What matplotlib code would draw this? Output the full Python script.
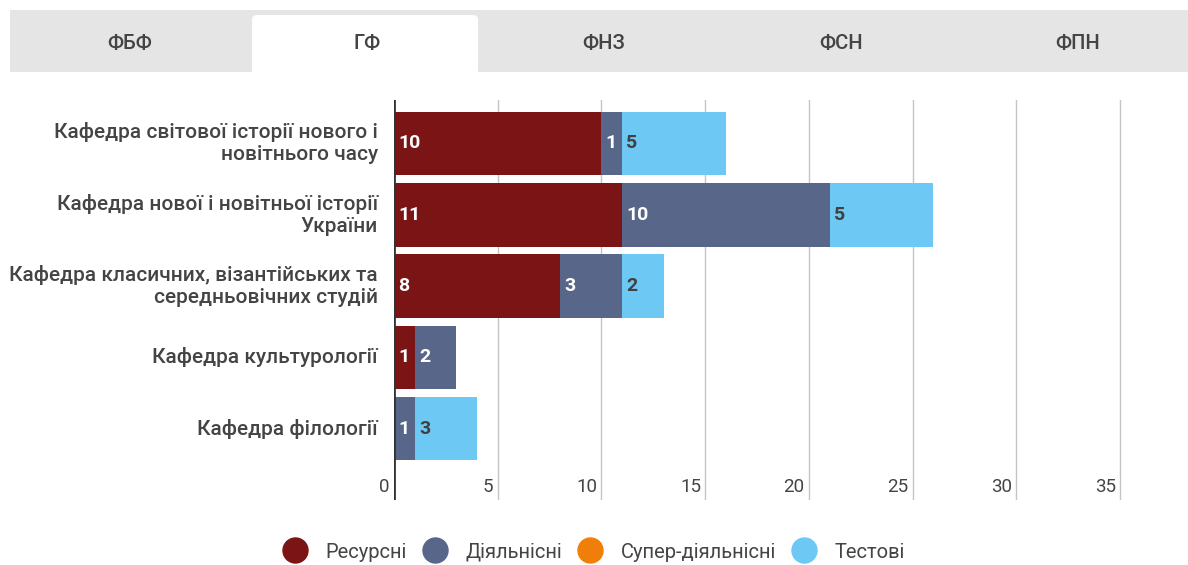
import matplotlib
matplotlib.use('Agg')
import numpy as np
import matplotlib.pyplot as plt
from matplotlib.patches import FancyBboxPatch, Rectangle
from matplotlib.lines import Line2D
from matplotlib.transforms import offset_copy

plt.rcParams['font.family'] = ['Roboto', 'DejaVu Sans']

tabs = ['ФБФ', 'ГФ', 'ФНЗ', 'ФСН', 'ФПН']
active_tab = 1

departments = [
    'Кафедра світової історії нового і\nновітнього часу',
    'Кафедра нової і новітньої історії\nУкраїни',
    'Кафедра класичних, візантійських та\nсередньовічних студій',
    'Кафедра культурології',
    'Кафедра філології',
]
series = ['Ресурсні', 'Діяльнісні', 'Супер-діяльнісні', 'Тестові']
resource = [10, 11, 8, 1, 0]
activity = [1, 10, 3, 2, 1]
super_activity = [0, 0, 0, 0, 0]
test = [5, 5, 2, 0, 3]
colors = ['#7b1515', '#58668a', '#f07f09', '#6dc8f3']
label_colors = ['white', 'white', 'white', '#404040']
xticks = [0, 5, 10, 15, 20, 25, 30, 35]

W, H = 1188, 565
fig = plt.figure(figsize=(W / 100, H / 100), dpi=100)

# tab strip drawn in pixel space
bg = fig.add_axes([0, 0, 1, 1], zorder=0)
bg.set_xlim(0, W)
bg.set_ylim(H, 0)
bg.axis('off')
bg.add_patch(Rectangle((10, 10), W - 10, 62, color='#e5e5e5', lw=0))
tab_w = 237
for i, t in enumerate(tabs):
    cx = 130 + i * tab_w
    if i == active_tab:
        bg.add_patch(FancyBboxPatch((252, 15), 226, 60, boxstyle='round,pad=0,rounding_size=5',
                                    fc='white', ec='none'))
    bg.text(cx, 43, t, ha='center', va='center', fontsize=14.5, color='#444444',
            fontweight='medium')

# bar chart
x0, x1, y0, y1 = 394, 1178, 100, 500
ax = fig.add_axes([x0 / W, 1 - y1 / H, (x1 - x0) / W, (y1 - y0) / H], zorder=1)
ax.patch.set_alpha(0)
px_per_unit = (1120 - 394) / 35
ax.set_xlim(0, (x1 - x0) / px_per_unit)
ax.set_ylim(-0.61 + 400 / 71.3, -0.61)

y = np.arange(len(departments))
left = np.zeros(len(departments))
for vals, c, lc in zip([resource, activity, super_activity, test], colors, label_colors):
    vals = np.array(vals, dtype=float)
    ax.barh(y, vals, left=left, height=0.89, color=c, zorder=2)
    for yi, (l, v) in enumerate(zip(left, vals)):
        if v > 0:
            ax.text(l + 0.2, yi, f'{int(v)}', ha='left', va='center', color=lc,
                    fontsize=14, fontweight='bold', zorder=3)
    left += vals

for t in xticks[1:]:
    ax.axvline(t, color='#c4c4c4', lw=1, zorder=1)
ax.axvline(0, color='#333333', lw=2, zorder=4)

ax.set_xticks([])
ax.set_yticks([])
for s in ax.spines.values():
    s.set_visible(False)

tick_tr = offset_copy(ax.transData, fig=fig, x=-3, y=0, units='points')
for t in xticks:
    ax.text(t, 4.82, str(t), transform=tick_tr, ha='right', va='center',
            fontsize=13.5, color='#444444')

for yi, d in zip(y, departments):
    ax.text(-16 / px_per_unit, yi, d, ha='right', va='center', fontsize=15,
            color='#444444', fontweight='medium', linespacing=1.2)

handles = [Line2D([], [], marker='o', ls='none', markersize=18, color=c) for c in colors]
fig.legend(handles, series, loc='center', bbox_to_anchor=(0.5, 1 - 552 / H), ncol=4,
           frameon=False, fontsize=14.5, labelcolor='#444444', handletextpad=0.9,
           columnspacing=0.8, handlelength=1.2)

fig.savefig('out.png', dpi=100, facecolor='white')
